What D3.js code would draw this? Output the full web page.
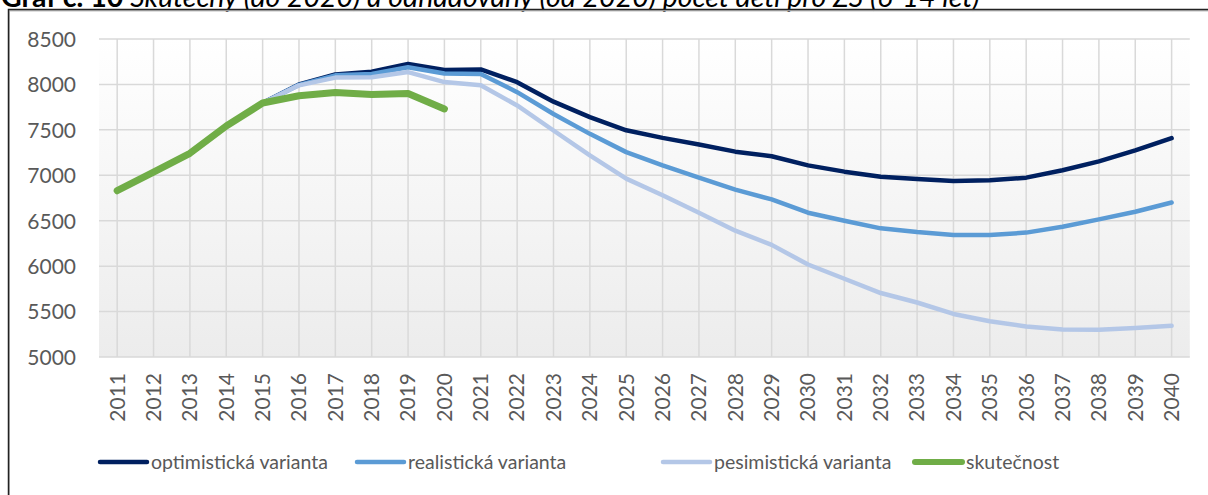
<!DOCTYPE html>
<html><head><meta charset="utf-8">
<script src="https://cdn.jsdelivr.net/npm/d3@7"></script>
<style>
html,body{margin:0;padding:0;background:#fff;overflow:hidden}
svg{display:block}
</style></head>
<body>
<svg id="chart" width="1208" height="495"></svg>
<script>
const years = d3.range(2011, 2041).map(String);
const yTicks = [5000, 5500, 6000, 6500, 7000, 7500, 8000, 8500];
const optimisticka = [6830, 7035, 7240, 7540, 7795, 8000, 8110, 8140, 8225, 8160, 8165, 8025, 7810, 7640, 7495, 7412, 7339, 7260, 7210, 7109, 7040, 6985, 6960, 6938, 6945, 6974, 7055, 7153, 7274, 7409];
const realisticka = [6830, 7035, 7240, 7540, 7795, 7995, 8100, 8115, 8190, 8120, 8115, 7915, 7675, 7456, 7255, 7109, 6974, 6843, 6734, 6588, 6500, 6416, 6375, 6343, 6343, 6369, 6434, 6515, 6599, 6701];
const pesimisticka = [6830, 7035, 7240, 7540, 7795, 7990, 8075, 8080, 8136, 8026, 7990, 7769, 7493, 7219, 6963, 6781, 6588, 6390, 6234, 6018, 5861, 5704, 5600, 5474, 5394, 5336, 5303, 5299, 5318, 5343];
const skutecnost = [6830, 7035, 7242, 7542, 7795, 7875, 7912, 7890, 7900, 7730];
const seriesNames = ["optimistická varianta", "realistická varianta", "pesimistická varianta", "skutečnost"];
const titleBold = "Graf č. 10 ";
const titleItalic = "Skutečný (do 2020) a odhadovaný (od 2020) počet dětí pro ZŠ (6-14 let)";

(function () {
const series = [
  {name: seriesNames[0], values: optimisticka, color: "#002060", width: 4.5},
  {name: seriesNames[1], values: realisticka, color: "#5B9BD5", width: 4.5},
  {name: seriesNames[2], values: pesimisticka, color: "#B4C7E7", width: 4.5},
  {name: seriesNames[3], values: skutecnost, color: "#70AD47", width: 7}
];

const svg = d3.select("#chart");
const font = "Lato, 'Open Sans', sans-serif";
const textColor = "#595959";

// title (cropped at top, as in the reference)
const title = svg.append("text").attr("x", 1).attr("y", 7)
  .attr("font-family", font).attr("font-size", 28.5).attr("fill", "#000");
title.append("tspan").attr("font-weight", "bold").text(titleBold);
title.append("tspan").attr("font-style", "italic").text(titleItalic);

// outer frame
svg.append("rect").attr("x", 9).attr("y", 10.5).attr("width", 1220).attr("height", 500)
  .attr("fill", "none").attr("stroke", "#bfbfbf").attr("stroke-width", 2);
svg.append("rect").attr("x", 8.5).attr("y", 9.5).attr("width", 1220).attr("height", 500)
  .attr("fill", "none").attr("stroke", "#222").attr("stroke-width", 1.5);

const pLeft = 99, pRight = 1189.8, pTop = 39, pBottom = 357;
const x = d3.scaleBand().domain(years).range([pLeft, pRight]);
const cx = d => x(d) + x.bandwidth() / 2;
const y = d3.scaleLinear().domain([5000, 8500]).range([pBottom, pTop]);

// plot background gradient
const defs = svg.append("defs");
const grad = defs.append("linearGradient").attr("id", "bg").attr("x1", 0).attr("y1", 0).attr("x2", 0).attr("y2", 1);
grad.append("stop").attr("offset", "0%").attr("stop-color", "#ffffff");
grad.append("stop").attr("offset", "100%").attr("stop-color", "#ececec");
svg.append("rect").attr("x", pLeft).attr("y", pTop).attr("width", pRight - pLeft).attr("height", pBottom - pTop)
  .attr("fill", "url(#bg)");

// gridlines
const g = svg.append("g");
g.selectAll("line.h").data(yTicks).join("line").attr("class", "h")
  .attr("x1", pLeft).attr("x2", pRight).attr("y1", d => y(d)).attr("y2", d => y(d))
  .attr("stroke", "#d9d9d9").attr("stroke-width", 1.5);
g.selectAll("line.v").data(years).join("line").attr("class", "v")
  .attr("x1", d => cx(d)).attr("x2", d => cx(d)).attr("y1", pTop).attr("y2", pBottom)
  .attr("stroke", "#d9d9d9").attr("stroke-width", 1.5);

// y axis
const yAxis = d3.axisLeft(y).tickValues(yTicks).tickSize(0).tickPadding(0).tickFormat(d3.format("d"));
const ya = svg.append("g").attr("transform", `translate(76,0)`).call(yAxis);
ya.select(".domain").remove();
ya.selectAll("text").attr("font-family", font).attr("font-size", 21).attr("fill", textColor).attr("dy", "0.35em");

// x axis
const xAxis = d3.axisBottom(x).tickSize(0);
const xa = svg.append("g").attr("transform", `translate(0,${pBottom})`).call(xAxis);
xa.select(".domain").remove();
xa.selectAll("text").attr("font-family", font).attr("font-size", 21).attr("fill", textColor)
  .attr("text-anchor", "end").attr("transform", "rotate(-90)")
  .attr("x", -16).attr("y", 0).attr("dy", "0.35em");

// lines
const line = d3.line().x((d, i) => cx(years[i])).y(d => y(d));
series.forEach(s => {
  svg.append("path").datum(s.values).attr("d", line)
    .attr("fill", "none").attr("stroke", s.color).attr("stroke-width", s.width)
    .attr("stroke-linejoin", "round").attr("stroke-linecap", "round");
});

// legend
const legendX = [100, 357, 663, 915];
const lg = svg.append("g");
series.forEach((s, i) => {
  const gg = lg.append("g").attr("transform", `translate(${legendX[i]},462)`);
  gg.append("line").attr("x1", 0).attr("x2", 47).attr("y1", 0).attr("y2", 0)
    .attr("stroke", s.color).attr("stroke-width", i === 3 ? 6 : 4.5).attr("stroke-linecap", "round");
  gg.append("text").attr("x", 51).attr("y", 0).attr("dy", "0.35em")
    .attr("font-family", font).attr("font-size", 19.5).attr("fill", textColor).text(s.name);
});
})();
</script>
</body></html>
